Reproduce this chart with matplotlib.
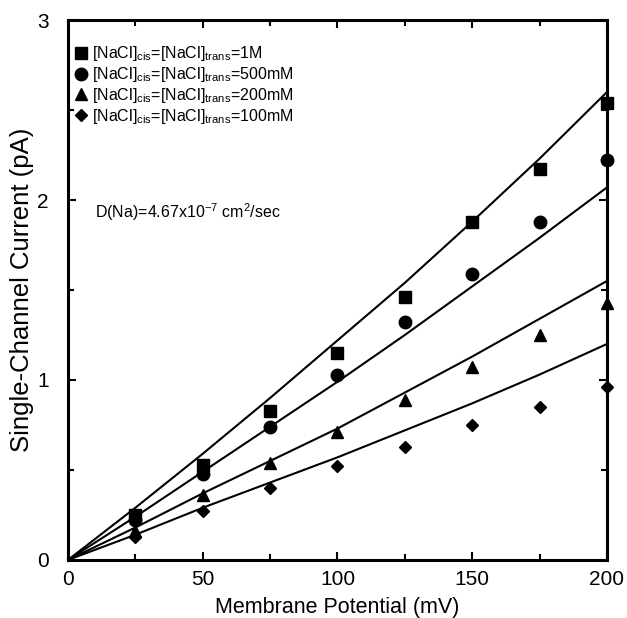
import numpy as np
import matplotlib.pyplot as plt
from matplotlib.ticker import MultipleLocator

plt.rcParams['font.family'] = ['Liberation Sans', 'DejaVu Sans']
plt.rcParams['mathtext.fontset'] = 'custom'
plt.rcParams['mathtext.rm'] = 'Liberation Sans'
plt.rcParams['mathtext.it'] = 'Liberation Sans'

# measured points (mV, pA)
voltage = [25, 50, 75, 100, 125, 150, 175, 200]
i_1M = [0.25, 0.53, 0.83, 1.15, 1.46, 1.88, 2.17, 2.54]
i_500mM = [0.22, 0.48, 0.74, 1.03, 1.32, 1.59, 1.88, 2.22]
i_200mM = [0.16, 0.36, 0.54, 0.71, 0.89, 1.07, 1.25, 1.43]
i_100mM = [0.13, 0.27, 0.40, 0.52, 0.63, 0.75, 0.85, 0.96]

# model curves
fit_v = [0, 25, 50, 75, 100, 125, 150, 175, 200]
fit_1M = [0, 0.29, 0.59, 0.90, 1.22, 1.54, 1.88, 2.23, 2.60]
fit_500mM = [0, 0.24, 0.49, 0.74, 0.99, 1.25, 1.52, 1.79, 2.07]
fit_200mM = [0, 0.18, 0.37, 0.55, 0.73, 0.93, 1.13, 1.34, 1.55]
fit_100mM = [0, 0.14, 0.29, 0.43, 0.57, 0.72, 0.87, 1.03, 1.20]

labels = ['1M', '500mM', '200mM', '100mM']
markers = ['s', 'o', '^', 'D']
msizes = [8, 9, 9, 6.5]

fig = plt.figure(figsize=(6.27, 6.18), dpi=100)
ax = fig.add_axes([0.1085, 0.094, 0.8595, 0.8735])

for fit in [fit_1M, fit_500mM, fit_200mM, fit_100mM]:
    ax.plot(fit_v, fit, color='black', lw=1.5)

data = [i_1M, i_500mM, i_200mM, i_100mM]
for ys, lab, m, ms in zip(data, labels, markers, msizes):
    ax.plot(voltage, ys, linestyle='none', marker=m, color='black', markersize=ms,
            label=r'[NaCl]$_{\rm cis}$=[NaCl]$_{\rm trans}$=' + lab, clip_on=False, zorder=5)

leg = ax.legend(loc='upper left', bbox_to_anchor=(-0.012, 0.982), frameon=False,
                fontsize=11.5, handlelength=0.6, handletextpad=0.4,
                labelspacing=0.12, borderaxespad=0.5)

ax.text(10, 1.93, r'D(Na)=4.67x10$^{-7}$ cm$^{2}$/sec', fontsize=11.5, va='center')

ax.set_xlim(0, 200)
ax.set_ylim(0, 3)
ax.xaxis.set_major_locator(MultipleLocator(50))
ax.xaxis.set_minor_locator(MultipleLocator(25))
ax.yaxis.set_major_locator(MultipleLocator(1))
ax.yaxis.set_minor_locator(MultipleLocator(0.5))
ax.tick_params(which='both', direction='in', top=True, right=True, labelsize=15, width=1.5)
ax.tick_params(which='major', length=6)
ax.tick_params(axis='x', which='major', pad=7)
ax.tick_params(axis='y', which='major', pad=14)
ax.tick_params(which='minor', length=4)
for s in ax.spines.values():
    s.set_linewidth(2.2)

ax.set_xlabel('Membrane Potential (mV)', fontsize=15.5, labelpad=6)
ax.set_ylabel('Single-Channel Current (pA)', fontsize=18.5, labelpad=2)

fig.savefig('out.png', dpi=100)
